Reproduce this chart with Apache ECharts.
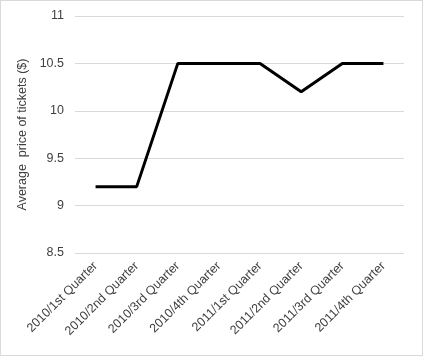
<!DOCTYPE html>
<html><head><meta charset="utf-8">
<script src="https://cdn.jsdelivr.net/npm/echarts@6/dist/echarts.min.js"></script>
<style>html,body{margin:0;padding:0;background:#fff}#c{width:423px;height:356px;box-sizing:border-box;border:1px solid #d9d9d9}</style>
</head><body><div id="c"></div>
<script>
const categories = ["2010/1st Quarter","2010/2nd Quarter","2010/3rd Quarter","2010/4th Quarter","2011/1st Quarter","2011/2nd Quarter","2011/3rd Quarter","2011/4th Quarter"];
const prices = [9.2, 9.2, 10.5, 10.5, 10.5, 10.2, 10.5, 10.5];
const yName = "Average  price of tickets ($)";
const chart = echarts.init(document.getElementById('c'), null, {renderer:'canvas'});
chart.setOption({
  animation:false,
  grid:{left:74, right:18, top:15, bottom:102},
  xAxis:{type:'category', data:categories, boundaryGap:true,
    axisLine:{show:false}, axisTick:{show:false},
    axisLabel:{rotate:45, interval:0, margin:11, color:'#404040', fontFamily:'Liberation Sans, Arial', fontSize:12.5}},
  yAxis:{type:'value', min:8.5, max:11, interval:0.5,
    name:yName, nameLocation:'middle', nameGap:40, nameRotate:90,
    nameTextStyle:{color:'#404040', fontFamily:'Liberation Sans, Arial', fontSize:12.5},
    axisLine:{show:false}, axisTick:{show:false},
    axisLabel:{color:'#404040', fontFamily:'Liberation Sans, Arial', fontSize:12.5, margin:11},
    splitLine:{lineStyle:{color:'#d9d9d9', width:1}}},
  series:[{type:'line', data:prices, symbol:'none', lineStyle:{color:'#000', width:3}, itemStyle:{color:'#000'}}]
});
</script></body></html>
